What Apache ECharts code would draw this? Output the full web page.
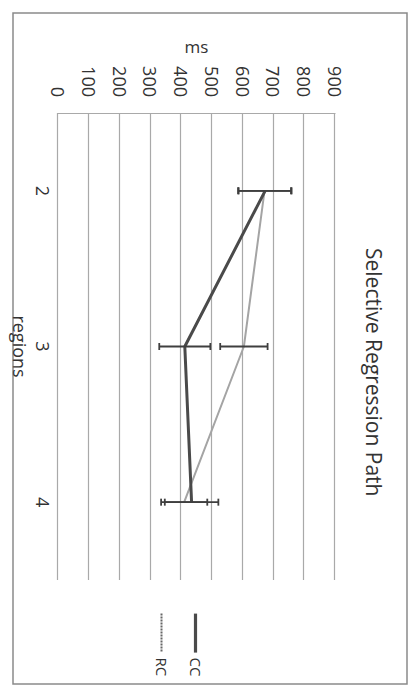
<!DOCTYPE html>
<html>
<head>
<meta charset="utf-8">
<script src="https://cdn.jsdelivr.net/npm/echarts@6/dist/echarts.min.js"></script>
<style>
  html, body { margin: 0; padding: 0; background: #fff; width: 414px; height: 688px; overflow: hidden; }
  /* chart is laid out landscape and turned a quarter clockwise onto the page */
  #chart {
    position: absolute; left: 0; top: 0;
    width: 688px; height: 414px;
    transform-origin: 0 0;
    transform: translate(414px, 0) rotate(90deg);
  }
</style>
</head>
<body>
<div id="chart"></div>
<script>
// regions on the category axis
const regions = ['2', '3', '4'];
// mean reading times (ms) with their error-bar half widths
const ccMeans = [673, 412, 434];
const ccErrors = [86, 83, 87];
const rcMeans = [671, 604, 410];
const rcErrors = [86, 77, 75];
// value axis range
const msMin = 0;
const msMax = 900;
const msStep = 100;

const FONT = '"Open Sans", "Liberation Sans", sans-serif';
const GRID_GREY = '#a9a9a9';
const NO_SYMBOL = { color: 'rgba(0,0,0,0)', borderColor: 'rgba(0,0,0,0)', borderWidth: 0 };

function errorBars(name, means, errors) {
  return {
    type: 'custom',
    name: name + ' error',
    silent: true,
    z: 5,
    data: means.map((m, i) => [i, m - errors[i], m + errors[i]]),
    encode: { x: 0, y: [1, 2] },
    renderItem(params, api) {
      const lo = api.coord([api.value(0), api.value(1)]);
      const hi = api.coord([api.value(0), api.value(2)]);
      const cap = 3.5;
      const style = { stroke: '#3f3f3f', lineWidth: 1.8 };
      return {
        type: 'group',
        children: [
          { type: 'line', shape: { x1: lo[0], y1: lo[1], x2: hi[0], y2: hi[1] }, style },
          { type: 'line', shape: { x1: lo[0] - cap, y1: lo[1], x2: lo[0] + cap, y2: lo[1] }, style },
          { type: 'line', shape: { x1: hi[0] - cap, y1: hi[1], x2: hi[0] + cap, y2: hi[1] }, style }
        ]
      };
    }
  };
}

const chart = echarts.init(document.getElementById('chart'), null, { renderer: 'svg' });
chart.setOption({
  backgroundColor: '#fff',
  animation: false,
  textStyle: { fontFamily: FONT },
  title: {
    text: 'Selective Regression Path',
    left: 243,
    top: 25,
    textStyle: { fontSize: 21, fontWeight: 'normal', color: '#333', fontFamily: FONT }
  },
  legend: {
    orient: 'vertical',
    left: 607,
    top: 206,
    itemWidth: 39,
    itemHeight: 14,
    itemGap: 19,
    textStyle: { fontSize: 15, color: '#333', fontFamily: FONT },
    data: [
      { name: 'CC', itemStyle: NO_SYMBOL, lineStyle: { color: '#4a4a4a', width: 3.2 } },
      { name: 'RC', itemStyle: NO_SYMBOL, lineStyle: { type: [2, 1], color: '#666', width: 2 } }
    ]
  },
  grid: { left: 113, right: 108, top: 79, bottom: 58 },
  xAxis: {
    type: 'category',
    data: regions,
    boundaryGap: true,
    axisLine: { show: false },
    axisTick: { show: false },
    axisLabel: { fontSize: 18, color: '#333', margin: 6, fontFamily: FONT },
    name: 'regions',
    nameLocation: 'middle',
    nameGap: 25,
    nameTextStyle: { fontSize: 18, color: '#333', fontFamily: FONT }
  },
  yAxis: {
    type: 'value',
    min: msMin,
    max: msMax,
    interval: msStep,
    axisLine: { show: true, lineStyle: { color: GRID_GREY, width: 1.2 } },
    axisTick: { show: false },
    axisLabel: { fontSize: 18, color: '#333', margin: 16, fontFamily: FONT },
    splitLine: { show: true, lineStyle: { color: GRID_GREY, width: 1.2 } },
    name: 'ms',
    nameLocation: 'middle',
    nameGap: 52,
    nameTextStyle: { fontSize: 17, color: '#333', fontFamily: FONT }
  },
  graphic: [{
    type: 'rect',
    shape: { x: 13, y: 7, width: 671, height: 394 },
    style: { fill: 'none', stroke: '#8a8a8a', lineWidth: 1.5 },
    silent: true
  }],
  series: [
    {
      name: 'CC', type: 'line', data: ccMeans, symbol: 'none', z: 4,
      lineStyle: { color: '#4a4a4a', width: 3 }, itemStyle: { color: '#4a4a4a' }
    },
    {
      name: 'RC', type: 'line', data: rcMeans, symbol: 'none', z: 3,
      lineStyle: { color: '#a4a4a4', width: 2 }, itemStyle: { color: '#a4a4a4' }
    },
    errorBars('CC', ccMeans, ccErrors),
    errorBars('RC', rcMeans, rcErrors)
  ]
});
</script>
</body>
</html>
